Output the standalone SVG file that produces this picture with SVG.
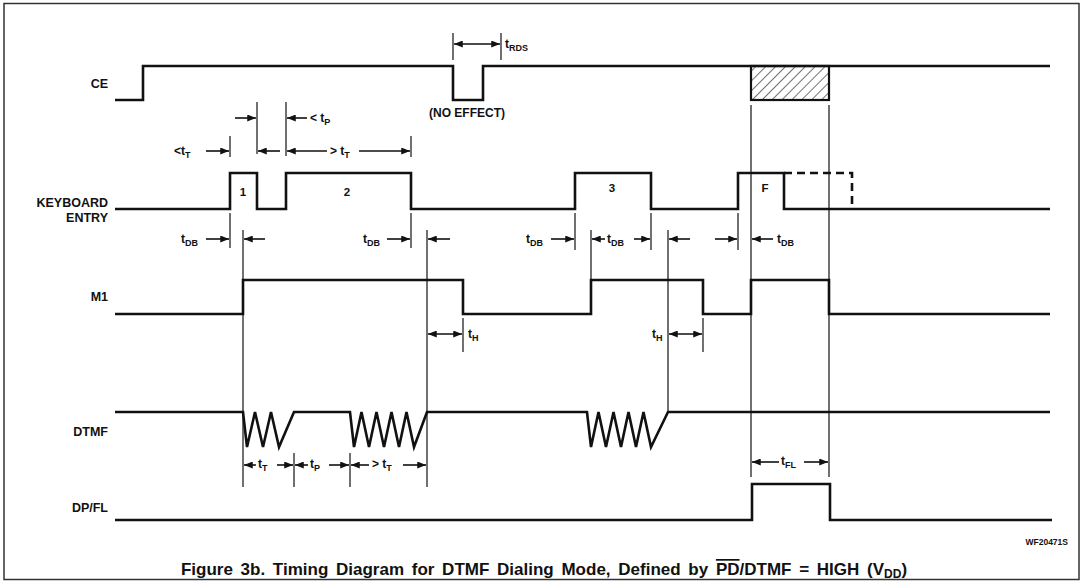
<svg xmlns="http://www.w3.org/2000/svg" width="1084" height="586" viewBox="0 0 1084 586">
<style>
  text { font-family: "Liberation Sans", Arial, sans-serif; font-weight: bold; fill: #111; }
  .lbl { font-size: 12.5px; text-anchor: end; }
  .t { font-size: 12px; }
  .sub { font-size: 9px; }
  .num { font-size: 11.5px; text-anchor: middle; }
  .sig { fill: none; stroke: #111; stroke-width: 2.6; stroke-linejoin: miter; }
  .dash { fill: none; stroke: #111; stroke-width: 2.6; stroke-dasharray: 8 5; }
  .tick { fill: none; stroke: #111; stroke-width: 1.2; }
  .arr { fill: none; stroke: #111; stroke-width: 1.6; marker-end: url(#ah); }
  .darr { fill: none; stroke: #111; stroke-width: 1.6; marker-start: url(#ah); marker-end: url(#ah); }
</style>
<defs>
  <marker id="ah" viewBox="0 0 10 8" refX="10" refY="4" markerWidth="9" markerHeight="7" markerUnits="userSpaceOnUse" orient="auto-start-reverse">
    <path d="M0,0 L10,4 L0,8 z" fill="#111"/>
  </marker>
  <pattern id="hatch" patternUnits="userSpaceOnUse" width="7" height="7" patternTransform="rotate(45)">
    <line x1="0" y1="0" x2="0" y2="7" stroke="#111" stroke-width="1.2"/>
  </pattern>
</defs>
<rect x="0" y="0" width="1084" height="586" fill="#fff"/>
<rect x="4" y="3.5" width="1075" height="576" fill="none" stroke="#333" stroke-width="1.5"/>

<g id="sig-ce">
  <text class="lbl" x="108" y="88">CE</text>
  <path class="sig" d="M115,100 H143 V66 H453 V100 H483 V66 H1050"/>
  <rect x="751" y="66" width="78" height="34" fill="url(#hatch)" stroke="#111" stroke-width="2.2"/>
  <text x="467" y="117" font-size="12" text-anchor="middle">(NO EFFECT)</text>
</g>

<g id="sig-keyboard">
  <text class="lbl" x="108" y="207">KEYBOARD</text>
  <text class="lbl" x="108" y="222">ENTRY</text>
  <path class="sig" d="M115,209 H230 V173 H257 V209 H286 V173 H411 V209 H575 V173 H651 V209 H738 V173 H784 V209 H1050"/>
  <path class="dash" d="M784,173 H852 V209"/>
  <text class="num" x="243" y="196">1</text>
  <text class="num" x="347" y="196">2</text>
  <text class="num" x="612" y="192">3</text>
  <text class="num" x="765" y="192">F</text>
</g>

<g id="sig-m1">
  <text class="lbl" x="108" y="301">M1</text>
  <path class="sig" d="M115,314 H243 V280 H463 V314 H591 V280 H703 V314 H751 V280 H829 V314 H1050"/>
</g>

<g id="sig-dtmf">
  <text class="lbl" x="108" y="436">DTMF</text>
  <path class="sig" d="M115,412 H243 L247,447 L255,412 L263,447 L271,412 L279,447 L294,412 H350 L354,447 L361.5,412 L369,447 L376.5,412 L384,447 L391.5,412 L399,447 L406.5,412 L414,447 L427,412 H587 L591,447 L598.5,412 L606,447 L613.5,412 L621,447 L628.5,412 L636,447 L643.5,412 L651,447 L668,412 H1050"/>
</g>

<g id="sig-dpfl">
  <text class="lbl" x="108" y="512">DP/FL</text>
  <path class="sig" d="M115,520 H752 V484 H830 V520 H1052"/>
</g>

<g id="connectors">
  <!-- tRDS -->
  <line class="tick" x1="453" y1="33" x2="453" y2="60"/>
  <line class="tick" x1="501" y1="33" x2="501" y2="60"/>
  <line class="darr" x1="454" y1="44" x2="500" y2="44"/>
  <text class="t" x="505" y="48">t<tspan class="sub" dy="3">RDS</tspan></text>

  <!-- row A: < tP -->
  <line class="tick" x1="257" y1="102" x2="257" y2="154"/>
  <line class="tick" x1="286" y1="102" x2="286" y2="156"/>
  <line class="arr" x1="235" y1="118" x2="256" y2="118"/>
  <line class="arr" x1="307" y1="118" x2="287" y2="118"/>
  <text class="t" x="310" y="122">&lt; t<tspan class="sub" dy="3">P</tspan></text>

  <!-- row B -->
  <line class="tick" x1="230" y1="136" x2="230" y2="157"/>
  <line class="tick" x1="411" y1="136" x2="411" y2="157"/>
  <text class="t" x="174" y="155">&lt;t<tspan class="sub" dy="3">T</tspan></text>
  <line class="arr" x1="206" y1="151" x2="229" y2="151"/>
  <line class="arr" x1="280" y1="151" x2="258" y2="151"/>
  <line class="arr" x1="327" y1="151" x2="287" y2="151"/>
  <text class="t" x="330" y="155">&gt; t<tspan class="sub" dy="3">T</tspan></text>
  <line class="arr" x1="359" y1="151" x2="410" y2="151"/>

  <!-- row C: tDB -->
  <line class="tick" x1="230" y1="213" x2="230" y2="248"/>
  <line class="tick" x1="243" y1="230" x2="243" y2="487"/>
  <text class="t" x="181" y="243">t<tspan class="sub" dy="3">DB</tspan></text>
  <line class="arr" x1="206" y1="239" x2="229" y2="239"/>
  <line class="arr" x1="265" y1="239" x2="244" y2="239"/>

  <line class="tick" x1="411" y1="213" x2="411" y2="248"/>
  <line class="tick" x1="427" y1="230" x2="427" y2="487"/>
  <text class="t" x="363" y="243">t<tspan class="sub" dy="3">DB</tspan></text>
  <line class="arr" x1="387" y1="239" x2="410" y2="239"/>
  <line class="arr" x1="450" y1="239" x2="428" y2="239"/>

  <line class="tick" x1="575" y1="213" x2="575" y2="250"/>
  <text class="t" x="526" y="243">t<tspan class="sub" dy="3">DB</tspan></text>
  <line class="arr" x1="551" y1="239" x2="574" y2="239"/>

  <line class="tick" x1="591" y1="230" x2="591" y2="280"/>
  <line class="tick" x1="651" y1="213" x2="651" y2="250"/>
  <line class="arr" x1="605" y1="239" x2="592" y2="239"/>
  <text class="t" x="607" y="243">t<tspan class="sub" dy="3">DB</tspan></text>
  <line class="arr" x1="634" y1="239" x2="650" y2="239"/>

  <line class="tick" x1="668" y1="230" x2="668" y2="412"/>
  <line class="arr" x1="690" y1="239" x2="669" y2="239"/>
  <line class="tick" x1="738" y1="213" x2="738" y2="250"/>
  <line class="arr" x1="715" y1="239" x2="737" y2="239"/>

  <line class="tick" x1="751" y1="105" x2="751" y2="477"/>
  <line class="tick" x1="829" y1="105" x2="829" y2="477"/>
  <line class="arr" x1="773" y1="239" x2="752" y2="239"/>
  <text class="t" x="777" y="243">t<tspan class="sub" dy="3">DB</tspan></text>

  <!-- tH -->
  <line class="tick" x1="463" y1="318" x2="463" y2="352"/>
  <line class="darr" x1="428" y1="334" x2="462" y2="334"/>
  <text class="t" x="468" y="338">t<tspan class="sub" dy="3">H</tspan></text>
  <line class="tick" x1="703" y1="318" x2="703" y2="352"/>
  <line class="darr" x1="669" y1="334" x2="702" y2="334"/>
  <text class="t" x="652" y="338">t<tspan class="sub" dy="3">H</tspan></text>

  <!-- DTMF timing -->
  <line class="tick" x1="294" y1="453" x2="294" y2="487"/>
  <line class="tick" x1="350" y1="453" x2="350" y2="487"/>
  <line class="arr" x1="256" y1="465" x2="244" y2="465"/>
  <text class="t" x="258" y="468">t<tspan class="sub" dy="3">T</tspan></text>
  <line class="arr" x1="277" y1="465" x2="293" y2="465"/>
  <line class="arr" x1="308" y1="465" x2="295" y2="465"/>
  <text class="t" x="310" y="468">t<tspan class="sub" dy="3">P</tspan></text>
  <line class="arr" x1="329" y1="465" x2="349" y2="465"/>
  <line class="arr" x1="369" y1="465" x2="351" y2="465"/>
  <text class="t" x="372" y="468">&gt; t<tspan class="sub" dy="3">T</tspan></text>
  <line class="arr" x1="403" y1="465" x2="426" y2="465"/>

  <!-- tFL -->
  <line class="arr" x1="779" y1="462" x2="752" y2="462"/>
  <text class="t" x="781" y="465">t<tspan class="sub" dy="3">FL</tspan></text>
  <line class="arr" x1="804" y1="462" x2="828" y2="462"/>
</g>

<text x="1068" y="545" font-size="8.5" text-anchor="end">WF20471S</text>
<text x="544" y="575" font-size="17" word-spacing="3" text-anchor="middle">Figure 3b. Timing Diagram for DTMF Dialing Mode, Defined by <tspan style="text-decoration: overline">PD</tspan>/DTMF = HIGH (V<tspan font-size="12" dy="3">DD</tspan><tspan dy="-3">)</tspan></text>
</svg>
